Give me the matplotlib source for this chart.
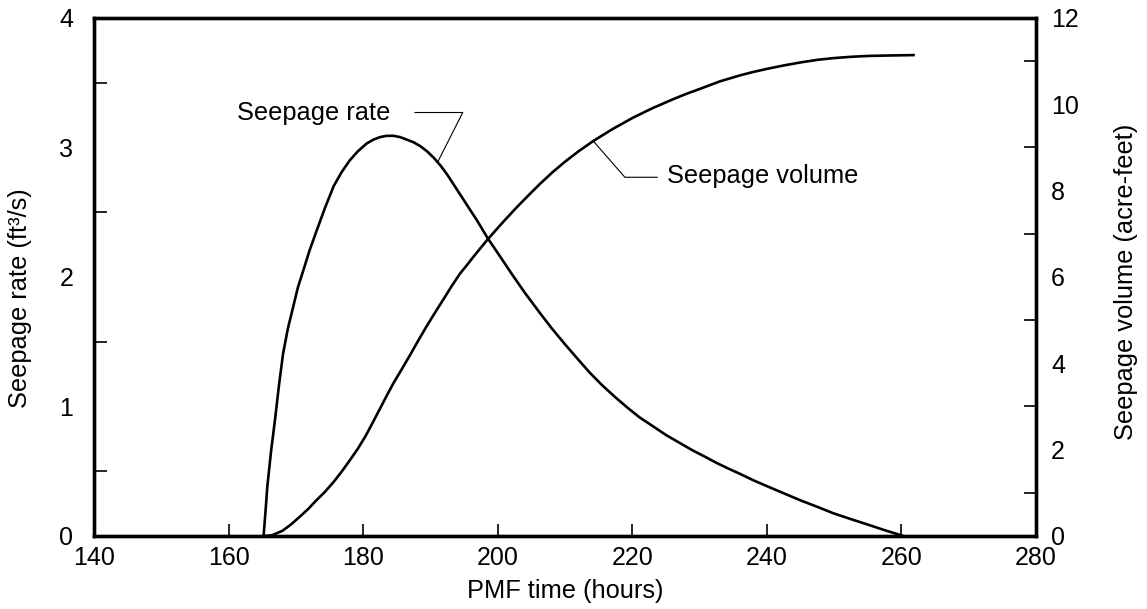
import matplotlib.pyplot as plt
from matplotlib.ticker import MultipleLocator

plt.rcParams['font.family'] = ['Liberation Sans', 'DejaVu Sans']

# Seepage rate (ft3/s)
rate_time = [165.2, 165.5, 165.75, 166.3, 166.9, 167.5, 168.1, 168.8, 169.6, 170.3,
             171.1, 172.0, 173.1, 174.3, 175.6, 176.8, 178.0, 179.2, 180.5, 181.5,
             182.5, 183.5, 184.5, 185.5, 186.5, 187.5, 188.5, 189.5, 190.5, 191.5,
             192.5, 193.5, 194.5, 195.5, 197.0, 198.5, 200.2, 202.0, 204.0, 206.3,
             208.0, 210.0, 212.0, 213.7, 215.5, 217.5, 219.3, 221.1, 223.0, 225.0,
             227.0, 229.0, 230.7, 232.5, 234.3, 236.0, 238.0, 240.0, 242.5, 245.0,
             247.5, 249.9, 252.5, 255.0, 257.5, 260.3]
rate_vals = [0.0, 0.20, 0.38, 0.65, 0.90, 1.17, 1.41, 1.60, 1.77, 1.92,
             2.05, 2.20, 2.36, 2.53, 2.70, 2.81, 2.90, 2.97, 3.03, 3.06,
             3.08, 3.09, 3.09, 3.08, 3.06, 3.04, 3.01, 2.97, 2.92, 2.86,
             2.79, 2.71, 2.63, 2.55, 2.43, 2.30, 2.17, 2.03, 1.88, 1.72,
             1.605, 1.48, 1.36, 1.26, 1.165, 1.07, 0.99, 0.915, 0.85, 0.78,
             0.72, 0.66, 0.615, 0.565, 0.52, 0.48, 0.43, 0.385, 0.33, 0.275,
             0.225, 0.175, 0.13, 0.088, 0.045, 0.0]

# Seepage volume (acre-feet)
vol_time = [165.5, 166.5, 168.0, 169.3, 170.6, 171.8, 173.0, 174.3, 175.6, 176.8,
            178.0, 179.2, 180.3, 181.4, 182.5, 183.5, 184.5, 185.8, 187.0, 188.2,
            189.4, 190.7, 192.0, 193.2, 194.4, 195.5, 196.5, 197.5, 198.5, 200.6,
            202.8, 204.5, 206.3, 208.1, 210.0, 212.0, 214.2, 217.0, 220.1, 223.0,
            226.1, 228.0, 230.1, 233.0, 236.0, 238.0, 240.0, 242.5, 245.0, 247.5,
            249.9, 252.5, 255.0, 258.0, 261.8]
vol_vals = [0.0, 0.02, 0.12, 0.27, 0.45, 0.62, 0.82, 1.02, 1.25, 1.49,
            1.75, 2.02, 2.30, 2.62, 2.95, 3.25, 3.54, 3.88, 4.20, 4.53,
            4.85, 5.18, 5.50, 5.80, 6.08, 6.29, 6.49, 6.68, 6.87, 7.24,
            7.61, 7.88, 8.16, 8.42, 8.67, 8.91, 9.15, 9.42, 9.69, 9.91,
            10.12, 10.24, 10.36, 10.53, 10.67, 10.75, 10.82, 10.90, 10.97, 11.03,
            11.07, 11.10, 11.12, 11.13, 11.14]

x_ticks = [140, 160, 180, 200, 220, 240, 260, 280]

fig = plt.figure(figsize=(11.47, 6.09), dpi=100)
ax = fig.add_axes([0.082, 0.1199, 0.8212, 0.8506])
ax2 = ax.twinx()

ax.plot(rate_time, rate_vals, color='black', linewidth=1.9)
ax2.plot(vol_time, vol_vals, color='black', linewidth=1.9)

ax.set_xlim(140, 280)
ax.set_ylim(0, 4)
ax2.set_ylim(0, 12)

# x axis: inward ticks at labelled values
ax.set_xticks(x_ticks)
ax.tick_params(axis='x', direction='in', length=9, width=1.2, pad=7,
               labelsize=18, top=False)

# y axes: labels without marks, short marks at the in-between values
ax.yaxis.set_major_locator(MultipleLocator(1))
ax.set_yticks([0.5, 1.5, 2.5, 3.5], minor=True)
ax.tick_params(axis='y', which='major', length=0, pad=15, labelsize=18)
ax.tick_params(axis='y', which='minor', direction='in', length=9, width=1.2)

ax2.set_yticks([0, 2, 4, 6, 8, 10, 12])
ax2.set_yticks([1, 3, 5, 7, 9, 11], minor=True)
ax2.tick_params(axis='y', which='major', length=0, pad=11, labelsize=18)
ax2.tick_params(axis='y', which='minor', direction='in', length=9, width=1.2)

for a in (ax, ax2):
    for s in a.spines.values():
        s.set_linewidth(2.4)

ax.set_xlabel('PMF time (hours)', fontsize=18.3, labelpad=7)
ax.set_ylabel('Seepage rate (ft³/s)', fontsize=18.3)
ax2.set_ylabel('Seepage volume (acre-feet)', fontsize=18.3)
ax.yaxis.set_label_coords(-0.066, 0.46)
ax2.yaxis.set_label_coords(1.083, 0.49)

# callout labels with leader lines
ax.plot([187.7, 194.8, 191.1], [3.27, 3.27, 2.89], color='black', linewidth=0.8)
ax.text(161.3, 3.27, 'Seepage rate', fontsize=18.3, va='center', ha='left')

ax.plot([214.2, 218.9, 223.7], [3.05, 2.77, 2.77], color='black', linewidth=0.8)
ax.text(225.2, 2.78, 'Seepage volume', fontsize=18.3, va='center', ha='left')

plt.savefig('out.png', dpi=100)
